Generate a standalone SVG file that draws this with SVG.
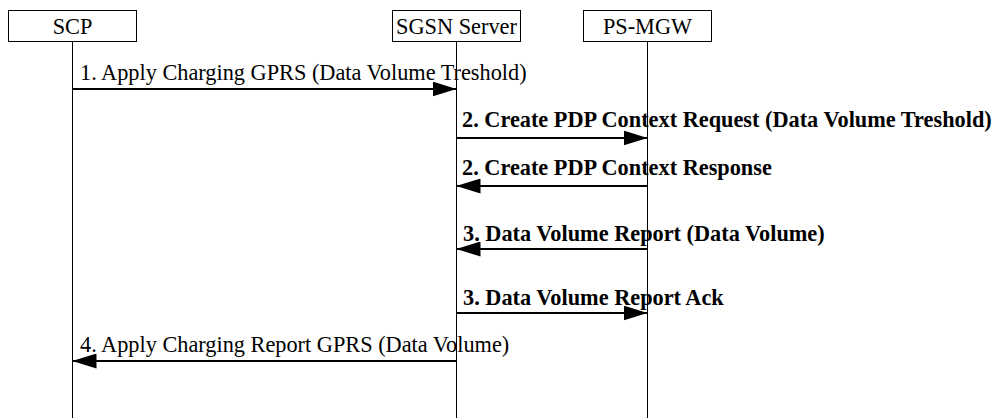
<svg xmlns="http://www.w3.org/2000/svg" width="994" height="418" viewBox="0 0 994 418">
  <style>
    .box { fill: #ffffff; stroke: #000000; stroke-width: 1; }
    .life { stroke: #000000; stroke-width: 1; fill: none; }
    .msg { stroke: #000000; stroke-width: 2; fill: none; marker-end: url(#arrow); }
    .name { font-family: "Liberation Serif", "Times New Roman", serif; font-size: 22.3px; fill: #000000; text-anchor: middle; }
    .lbl { font-family: "Liberation Serif", "Times New Roman", serif; font-size: 22.3px; fill: #000000; }
    .bold { font-weight: bold; }
  </style>
  <defs>
    <marker id="arrow" markerUnits="userSpaceOnUse" markerWidth="24" markerHeight="15" refX="24" refY="7.5" orient="auto">
      <path d="M0,0 L24,7.5 L0,15 z" fill="#000000"/>
    </marker>
  </defs>
  <rect width="994" height="418" fill="#ffffff"/>

  <g id="node-scp">
    <rect class="box" x="8.5" y="10.5" width="128" height="31"/>
    <text class="name" x="72.5" y="33.5">SCP</text>
    <line class="life" x1="72.5" y1="41.5" x2="72.5" y2="418"/>
  </g>
  <g id="node-sgsn">
    <rect class="box" x="392.5" y="10.5" width="128" height="31"/>
    <text class="name" x="456.5" y="33.5">SGSN Server</text>
    <line class="life" x1="456.5" y1="41.5" x2="456.5" y2="418"/>
  </g>
  <g id="node-psmgw">
    <rect class="box" x="583.5" y="10.5" width="128" height="31"/>
    <text class="name" x="647.5" y="33.5">PS-MGW</text>
    <line class="life" x1="647.5" y1="41.5" x2="647.5" y2="418"/>
  </g>

  <g id="connectors">
    <line class="msg" x1="72.5" y1="89" x2="456.5" y2="89"/>
    <text class="lbl" x="80" y="80">1. Apply Charging GPRS (Data Volume Treshold)</text>

    <line class="msg" x1="456.5" y1="138" x2="647.5" y2="138"/>
    <text class="lbl bold" x="462" y="127">2. Create PDP Context Request (Data Volume Treshold)</text>

    <line class="msg" x1="647.5" y1="186" x2="456.5" y2="186"/>
    <text class="lbl bold" x="462" y="175">2. Create PDP Context Response</text>

    <line class="msg" x1="647.5" y1="249" x2="456.5" y2="249"/>
    <text class="lbl bold" x="463" y="241">3. Data Volume Report (Data Volume)</text>

    <line class="msg" x1="456.5" y1="313" x2="647.5" y2="313"/>
    <text class="lbl bold" x="463" y="305">3. Data Volume Report Ack</text>

    <line class="msg" x1="456.5" y1="361" x2="72.5" y2="361"/>
    <text class="lbl" x="80" y="352">4. Apply Charging Report GPRS (Data Volume)</text>
  </g>
</svg>
